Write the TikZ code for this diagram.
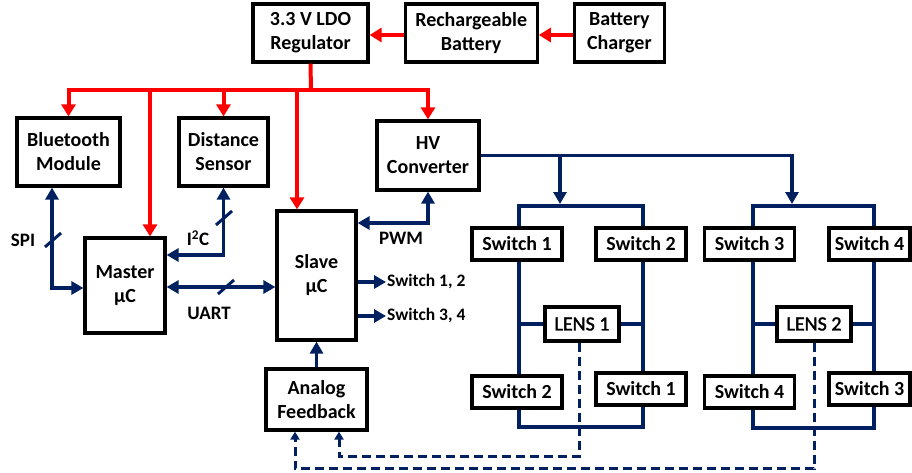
\documentclass[tikz,border=0pt]{standalone}
\usepackage{fontspec}
\setmainfont{Carlito}
\newfontface\lensfont{Carlito}[FakeBold=1.6]
\usepackage{tikz}
\usetikzlibrary{positioning,arrows.meta}
\definecolor{navy}{HTML}{002060}
\definecolor{pwrred}{HTML}{FF0000}

\begin{document}
\begin{tikzpicture}[x=1pt, y=-1pt,
  node distance=34pt,
  blk/.style={draw, line width=3.2pt, fill=white, inner sep=0pt, align=center,
              font=\fontsize{20}{24}\selectfont\bfseries, minimum height=58pt},
  sw/.style={blk, minimum width=90pt, minimum height=32pt},
  lens/.style={blk, minimum width=74pt, minimum height=34pt,
               font=\fontsize{20}{24}\lensfont},
  lbl/.style={font=\fontsize{19}{22}\selectfont\bfseries, inner sep=1pt},
  outl/.style={lbl, font=\fontsize{17.5}{21}\selectfont\bfseries, anchor=west},
  bus/.style={line width=4pt, draw=pwrred},
  pwr/.style={bus, -{Triangle[length=12pt,width=14pt]}},
  sig/.style={line width=3.5pt, draw=navy},
  arw/.style={sig, -{Triangle[length=12pt,width=13pt]}},
  darw/.style={sig, {Triangle[length=12pt,width=13pt]}-{Triangle[length=12pt,width=13pt]}},
  fb/.style={line width=3pt, draw=navy, dash pattern=on 9pt off 5pt,
             -{Triangle[length=8pt,width=9pt]}},
  slash/.pic={\draw[line width=3pt, navy] (-8,7) -- (8,-7);}]
\useasboundingbox (0,0) rectangle (912,473);
% power chain
\node[blk, minimum width=115pt] (ldo) at (310.5,33) {3.3 V LDO\\Regulator};
\node[blk, minimum width=132pt, right=of ldo] (bat) {Rechargeable\\Battery};
\node[blk, minimum width=90pt, right=of bat] (chg) {Battery\\Charger};
\node[blk, minimum width=103pt, minimum height=68pt] (bt) at (68.5,152) {Bluetooth\\Module};
\node[blk, minimum width=89pt, minimum height=68pt] (ds) at (223.5,152) {Distance\\Sensor};
\node[blk, minimum width=102pt, minimum height=69pt] (hv) at (428,155.5) {HV\\Converter};
\node[blk, minimum width=80pt, minimum height=95pt] (mst) at (125,285.5) {Master\\µC};
\node[blk, minimum width=79pt, minimum height=129pt] (slv) at (316.5,275.5) {Slave\\µC};
\node[blk, minimum width=101pt, minimum height=61pt] (afb) at (316.5,399.5) {Analog\\Feedback};
% switch groups
\node[sw] (s1a) at (517,244) {Switch 1};
\node[sw] (s2a) at (641,244) {Switch 2};
\node[sw] (s2b) at (517,392) {Switch 2};
\node[sw] (s1b) at (641,389) {Switch 1};
\node[lens] (lens1) at (582,324) {LENS 1};
\node[sw] (s3a) at (749.5,244) {Switch 3};
\node[sw, minimum width=81pt] (s4a) at (869.5,244) {Switch 4};
\node[sw] (s4b) at (749.5,392) {Switch 4};
\node[sw, minimum width=81pt] (s3b) at (869.5,389) {Switch 3};
\node[lens] (lens2) at (814,324) {LENS 2};
% labels
\node[lbl] (spi) at (23,240) {SPI};
\node[lbl] (i2c) at (198,238) {I\textsuperscript{2}C};
\node[lbl] (uart) at (209,313) {UART};
\node[lbl] (pwm) at (401,238) {PWM};
\node[outl] (o12) at (386,282) {Switch 1, 2};
\node[outl] (o34) at (386,316) {Switch 3, 4};

% red supply lines
\coordinate (pb) at (311,90);
\coordinate (mtop) at ([xshift=25pt]mst.north);
\coordinate (stop) at ([xshift=-19.5pt]slv.north);
\draw[pwr] ([yshift=-2pt]chg.west) -- ([yshift=-2pt]bat.east);
\draw[pwr] ([yshift=-2pt]bat.west) -- ([yshift=-2pt]ldo.east);
\draw[bus] (ldo.south) -- (pb);
\draw[pwr] (pb) -| (bt.north);
\draw[pwr] (pb) -| (hv.north);
\draw[pwr] (ds.north |- pb) -- (ds.north);
\draw[pwr] (mtop |- pb) -- (mtop);
\draw[pwr] (stop |- pb) -- (stop);

% signal lines
\coordinate (spix) at ([xshift=-16.5pt]bt.south);
\draw[darw] (spix) |- ([yshift=-2.5pt]mst.west);
\draw[darw] (ds.south) |- ([yshift=30.5pt]mst.east);
\draw[darw] ([yshift=-1.5pt]mst.east) -- ([yshift=-1.5pt]mst.east -| slv.west);
\draw[darw] ([yshift=52.5pt]slv.east) -| (hv.south);
\pic at (53,240) {slash};
\pic at (224,218) {slash};
\pic at (226,287) {slash};
\draw[arw] ([yshift=-6.5pt]slv.east) -- (o12.west);
\draw[arw] ([yshift=-40.5pt]slv.east) -- (o34.west);
\draw[arw] (afb) -- (slv);

% HV feed to the switch bridges
\coordinate (f1) at (560,204);
\coordinate (f2) at (792,204);
\draw[arw] (hv.east) -| (f2);
\draw[arw] (hv.east -| f1) -- (f1);

\coordinate (g1tl) at (519,206); \coordinate (g1tr) at (643,206);
\coordinate (g1bl) at (519,427); \coordinate (g1br) at (643,427);
\draw[sig] (s1a.north -| g1tl) -- (g1tl) -- (g1tr) -- (s2a.north -| g1tr);
\draw[sig] (s1a.south -| g1tl) -- (s2b.north -| g1tl);
\draw[sig] (s2a.south -| g1tr) -- (s1b.north -| g1tr);
\draw[sig] (s2b.south -| g1bl) -- (g1bl) -- (g1br) -- (s1b.south -| g1br);
\draw[sig] (lens1.west) -- (lens1.west -| g1tl);
\draw[sig] (lens1.east) -- (lens1.east -| g1tr);

\coordinate (g2tl) at (753,206); \coordinate (g2tr) at (874,206);
\coordinate (g2bl) at (753,428); \coordinate (g2br) at (874,428);
\draw[sig] (s3a.north -| g2tl) -- (g2tl) -- (g2tr) -- (s4a.north -| g2tr);
\draw[sig] (s3a.south -| g2tl) -- (s4b.north -| g2tl);
\draw[sig] (s4a.south -| g2tr) -- (s3b.north -| g2tr);
\draw[sig] (s4b.south -| g2bl) -- (g2bl) -- (g2br) -- (s3b.south -| g2br);
\draw[sig] (lens2.west) -- (lens2.west -| g2tl);
\draw[sig] (lens2.east) -- (lens2.east -| g2tr);

% lens feedback
\draw[fb] ([xshift=-3pt]lens1.south) -- ++(0,114) -| ([xshift=22.5pt]afb.south);
\draw[fb] (lens2.south) -- ++(0,126) -| ([xshift=-21.5pt]afb.south);
\end{tikzpicture}
\end{document}
